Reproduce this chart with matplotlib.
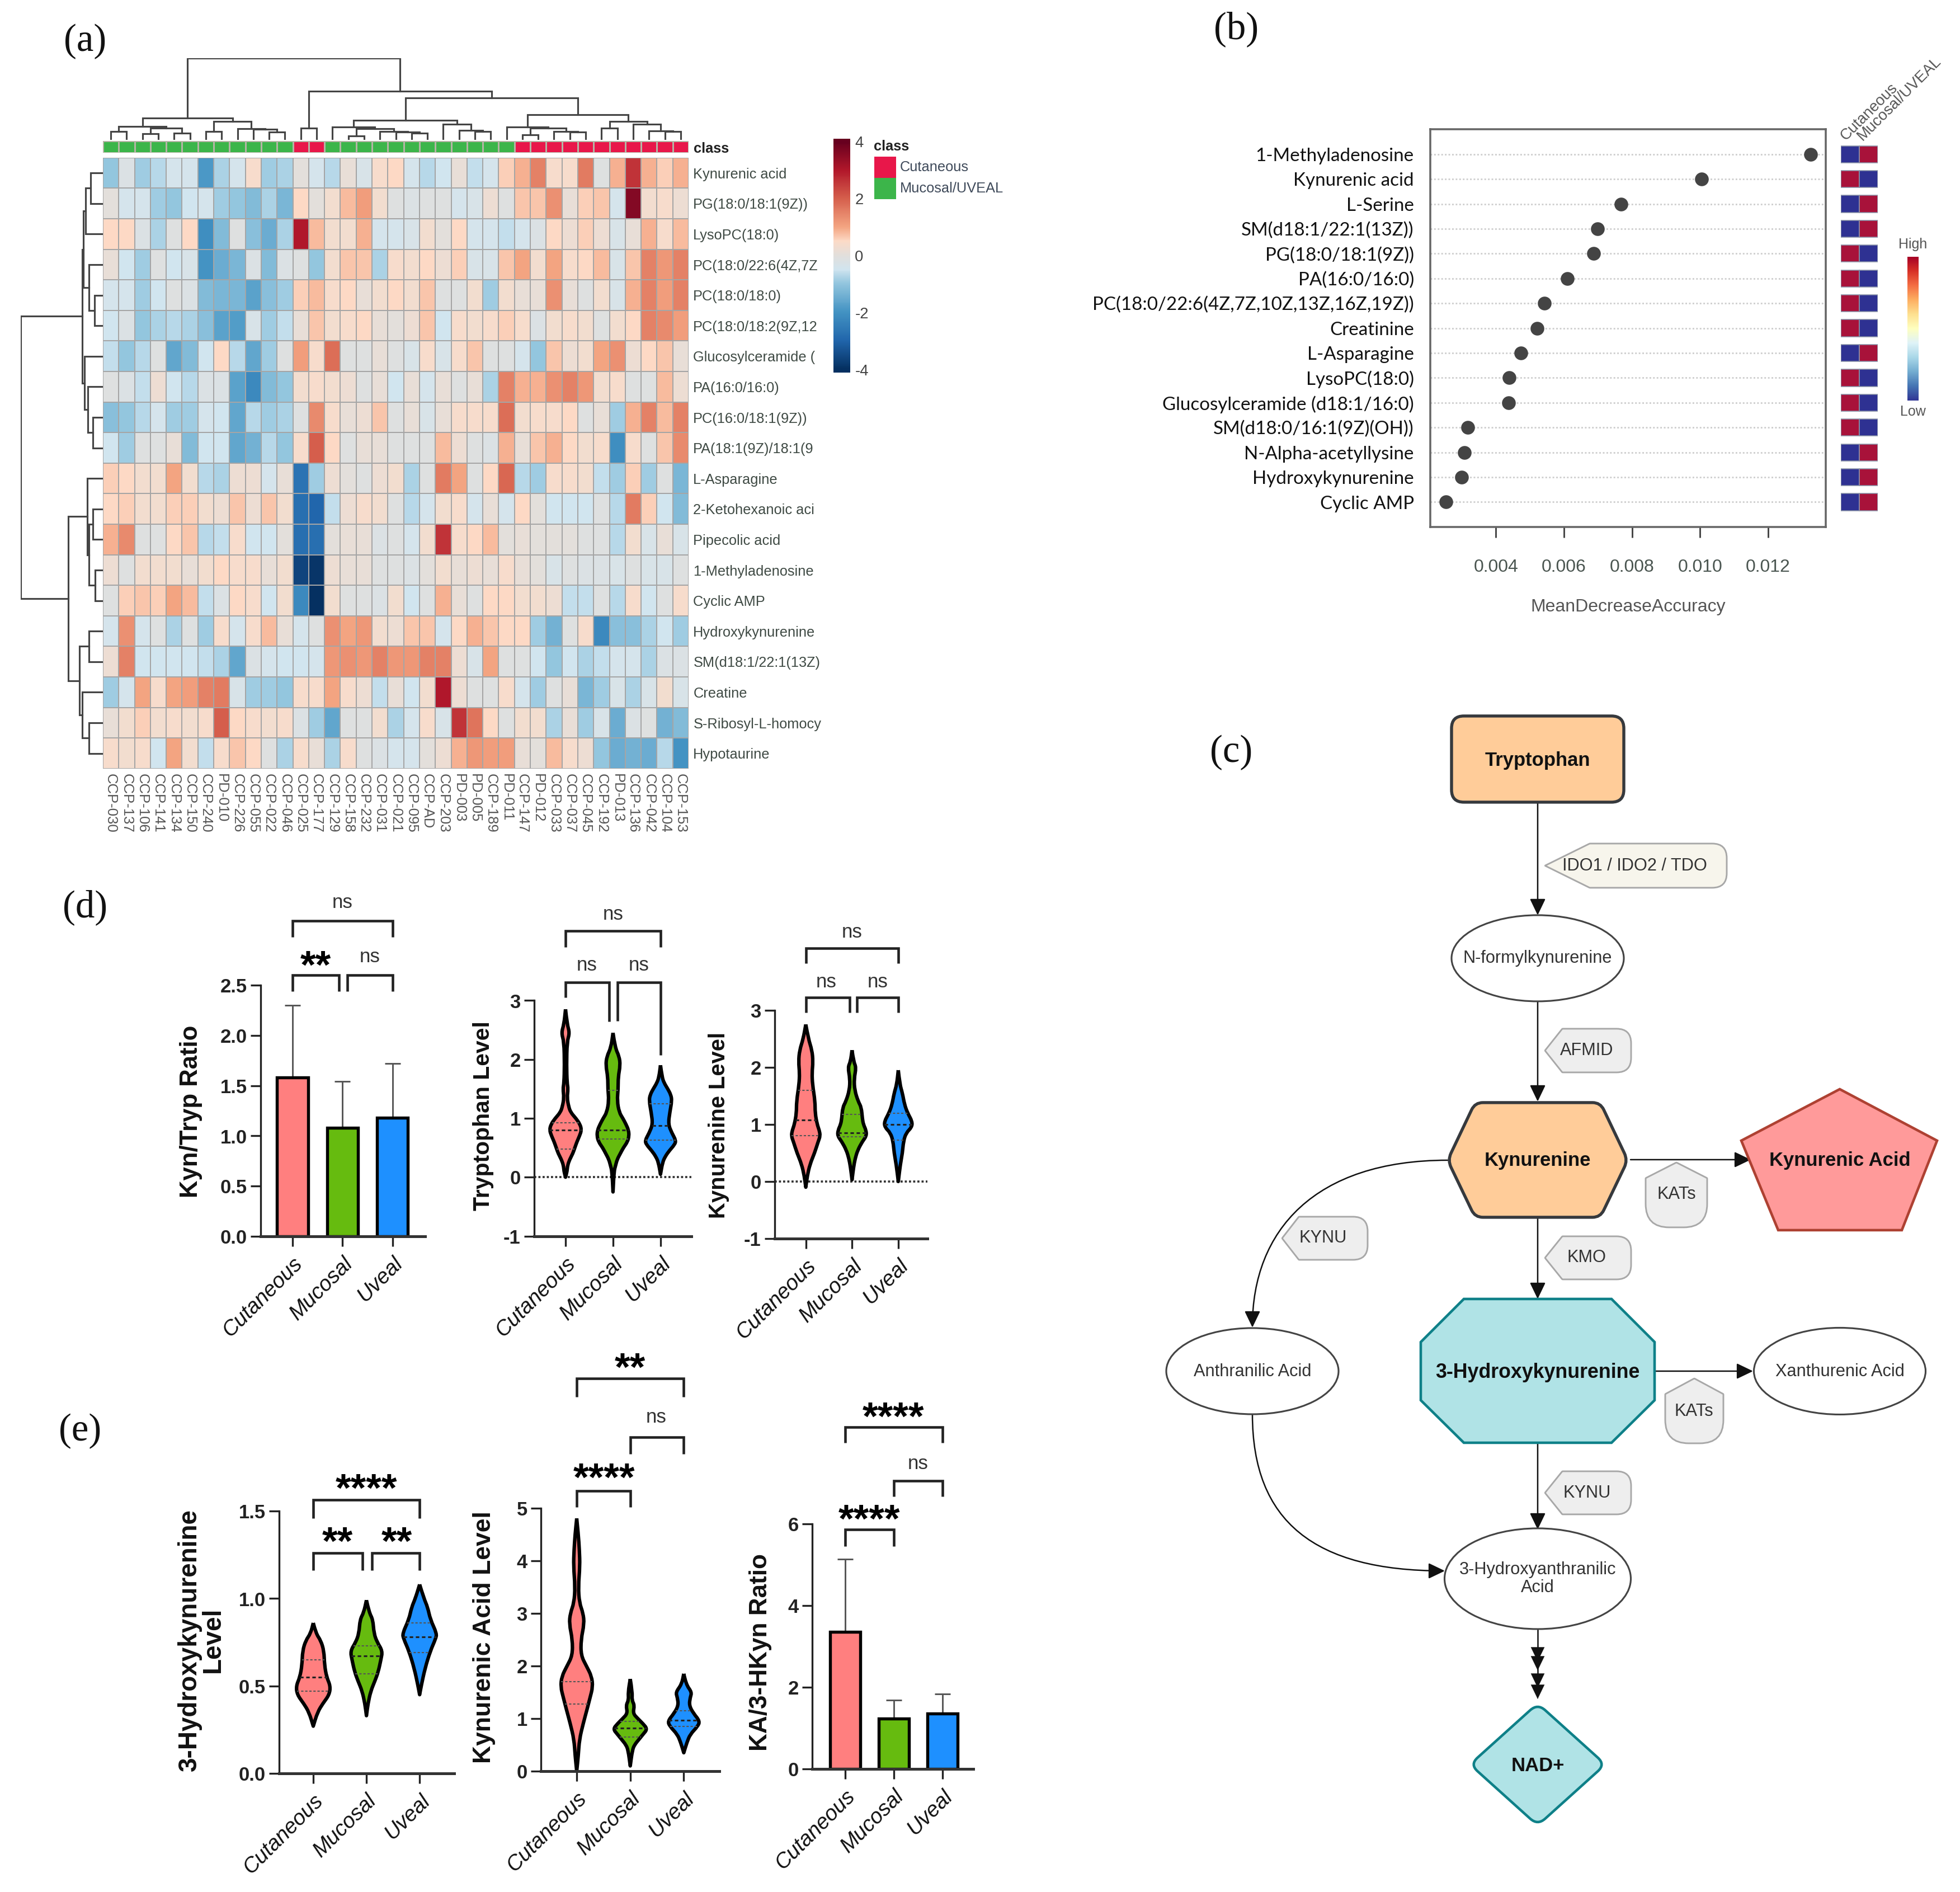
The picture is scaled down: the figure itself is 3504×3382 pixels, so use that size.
import numpy as np
import matplotlib
matplotlib.use("Agg")
import matplotlib.pyplot as plt
from matplotlib.colors import LinearSegmentedColormap, ListedColormap
from matplotlib.patches import Ellipse, FancyArrowPatch, PathPatch
from matplotlib.path import Path

plt.rcParams['font.family'] = ['Liberation Sans', 'DejaVu Sans']

W, H = 3504, 3382

# ---- (a) heatmap
samples = ['CCP-030', 'CCP-137', 'CCP-106', 'CCP-141', 'CCP-134', 'CCP-150', 'CCP-240', 'PD-010', 'CCP-226',
           'CCP-055', 'CCP-022', 'CCP-046', 'CCP-025', 'CCP-177', 'CCP-129', 'CCP-158', 'CCP-232', 'CCP-031',
           'CCP-021', 'CCP-095', 'CCP-AD', 'CCP-203', 'PD-003', 'PD-005', 'CCP-189', 'PD-011', 'CCP-147',
           'PD-012', 'CCP-033', 'CCP-037', 'CCP-045', 'CCP-192', 'PD-013', 'CCP-136', 'CCP-042', 'CCP-104',
           'CCP-153']
metabolites = ['Kynurenic acid', 'PG(18:0/18:1(9Z))', 'LysoPC(18:0)', 'PC(18:0/22:6(4Z,7Z', 'PC(18:0/18:0)',
               'PC(18:0/18:2(9Z,12', 'Glucosylceramide (', 'PA(16:0/16:0)', 'PC(16:0/18:1(9Z))', 'PA(18:1(9Z)/18:1(9',
               'L-Asparagine', '2-Ketohexanoic aci', 'Pipecolic acid', '1-Methyladenosine', 'Cyclic AMP',
               'Hydroxykynurenine', 'SM(d18:1/22:1(13Z)', 'Creatine', 'S-Ribosyl-L-homocy', 'Hypotaurine']
sample_class = [1]*12 + [0]*2 + [1]*12 + [0]*11
heat = [
    [-1, -.2, -.9, -.7, -.4, -.4, -1.9, -.8, -.4, .4, -.9, -.8, 0, -.4, -.7, .1, -.3, .4, .5, -.4, -.7, -.5, .1, -.6, -.4, .6, .9, 1.5, .4, .4, 1.6, -.1, .9, 2.6, .9, .6, .9],
    [0, -.4, -.4, -.9, -1, -.5, -.4, -.9, -1, -1.2, -.8, -1.3, .5, 0, .3, .8, 1.1, .3, -.1, -.2, -.1, -.1, -.4, -.3, .2, -.1, .7, .7, 1.3, .1, .6, .7, -.4, 3.6, .3, .4, .2],
    [.5, .5, -.2, -.8, -.1, .5, -2.1, -1.2, -.1, -1.1, -1.5, -.8, 3, .8, .3, .3, .9, -.4, -.4, -.3, .3, 0, .5, -.4, -.4, -.6, -.4, -.2, .5, .2, .6, .2, -.3, .1, .9, .4, .8],
    [.1, -.5, -.9, -.1, -.5, -.3, -2, -1.5, -1.3, -.2, -1.2, -.2, -.1, -1, .3, .7, .7, -.8, .4, .3, .5, .2, .6, -.3, -.3, .7, 1, .3, 1, .4, .5, .8, -.3, .7, 1.5, 1.2, 1.5],
    [-.4, -.4, -.9, -.5, -.1, -.2, -1.2, -1.3, -1.3, -1.7, -1.1, -.9, .6, .8, .4, .5, .1, .3, .5, .3, .7, -.1, -.1, .3, -.9, .3, .1, .1, 1.3, .1, -.1, .3, -.3, .9, 1.5, 1.1, 1.5],
    [-.5, -.2, -1, -.8, -.7, -.8, -1.1, -1.7, -1.8, -.3, -.9, -.6, .1, .7, .3, .4, .5, .1, 0, .2, .7, -.5, .4, .3, .4, .6, .4, -.2, .3, .4, .3, -.1, .3, .5, 1.5, 1.4, 1.1],
    [-.6, -1, -.7, -.1, -1.6, -1.2, -.5, .5, -.7, -1.6, -.9, -.1, 1.1, .4, 1.8, -.1, -.1, .1, -.1, -.3, .4, -.3, .4, .7, -.1, -.1, -.4, -1, .7, .2, .3, 1, 1.3, .2, .5, .7, .1],
    [-.1, -.2, -.6, .2, -.5, -.7, -.2, -.2, -1.7, -2.2, -1.2, -1, .3, .4, .3, .2, -.1, .1, -.5, .1, -.4, .1, -.1, .1, -.8, 1.5, .9, .9, 1.3, 1.5, 1.2, .3, .4, -.1, -.1, .8, .2],
    [-1.1, -1, -.7, -.4, -.9, -.9, -.4, -.5, -1.6, -.7, -.9, -.8, -.1, 1.4, .4, .1, .2, .7, -.1, .1, -.3, .1, .4, .4, .4, 1.8, .3, .4, .4, .5, -.1, .1, -.9, .9, 1.5, .8, 1.5],
    [-.5, -.9, -.1, -.1, .1, -1.2, -.5, -.5, -1.6, -1.4, -.7, -1, .4, 2, .5, -.1, .1, .1, -.1, -.1, -.1, .8, .2, -.1, -.2, .9, .1, .7, .9, .5, .3, .4, -2.1, .4, -.1, .7, 1.4],
    [.6, .5, .3, .3, 1, .3, -.7, -.8, .2, .2, -.4, .1, -2.7, -.9, .2, 0, -.1, .2, .3, -.8, -.1, 1.6, 1, -.1, .5, 1.9, -.7, -.9, .4, .4, .3, -.6, -.9, .6, -.9, -.1, -1.3],
    [.5, .6, .3, .3, .6, .6, .3, .2, .7, .2, .7, .3, -2.8, -3, -.6, .2, .4, .3, -.1, -.7, -.4, .3, .4, -.4, .1, -.4, .5, 0, -.5, -.5, -.5, -.1, -.7, 1.6, .6, -.5, -1.2],
    [.9, 1.4, -.1, -.1, .5, .7, -.7, -.6, .4, -.5, -.5, 0, -2.8, -2.8, 0, .1, .1, -.2, -.1, -.4, .3, 2.6, .4, .5, .8, 0, .1, 0, 0, 0, -.1, -.1, -.7, .3, -.3, .1, -.3],
    [.2, -.1, .3, .3, .3, .1, .3, .5, .4, .4, .1, .3, -3.6, -3.9, .2, .1, .1, -.1, -.1, -.2, 0, .3, .1, .2, .1, .4, .1, 0, -.3, -.1, -.2, -.2, -.3, -.1, -.3, -.3, -.1],
    [-.1, .6, .7, .6, 1, .8, -.6, -.2, .5, .4, -.5, .3, -2.2, -4, .3, -.1, -.1, -.2, .3, -.5, -.1, .9, .1, -.1, .5, .5, .3, .3, .2, -.6, -.6, -.1, -.7, .4, -.5, -.1, .4],
    [-.4, 1.3, -.4, -.1, -.8, -.1, -.9, .4, -.4, .4, .8, .1, -.4, -.1, 1.3, 1, 1.2, .3, .2, .7, .7, -.4, .5, .9, .7, .5, .5, -.9, -1.4, -.1, .4, -2.2, -1.1, -1.1, -.8, -.5, -.9],
    [.2, 1.5, -.5, -.5, -.5, -.5, -.6, -.8, -1.6, -.2, -.4, -.5, -.5, -.4, 1.2, 1.3, 1.2, 1.5, 1.2, 1.2, 1.5, 1.5, .2, -.3, 1, -.1, -.1, -.5, -1, -.5, -.8, -.6, -.4, -.4, -.8, -.2, -.2],
    [-.9, -.4, 1, .4, 1, 1.1, 1.5, 1.6, -.3, -.9, -.9, -1, .4, .4, 1, .4, .2, -.6, .1, -.5, .3, 3, .2, -.1, -.1, .4, -.4, -.9, -.1, .1, -1.3, -.9, -.3, -.8, -.3, .3, -.3],
    [.1, .3, .6, .3, .4, .3, .4, 2, .5, .4, .3, .4, -.2, -.9, -1.6, -.1, -.1, .3, -.8, -.4, .4, -.3, 2.6, 1.7, .5, -.1, .3, .3, -.8, .1, -.9, -.3, -1.5, -.2, -.1, -1.4, -1.2],
    [.4, .3, .4, -.5, 1, .3, -.6, .4, .7, .5, -.1, -.8, .4, .1, -.8, .4, -.1, -.2, -.4, -.4, 0, .2, .9, 1.2, 1.1, 1.1, .1, 0, .8, .4, .2, -1, -1.5, -1.4, -1.5, -.7, -2],
]
heat_ticks = [4, 2, 0, -2, -4]

# dendrograms as nested (height, left, right), leaves are column / row numbers
col_left = (80, (50, (30, 0, 1), (42, (22, 2, 3), (25, 4, 5))),
            (68, (30, 6, 7), (40, 8, (38, 9, (28, 10, 11)))))
col_c1 = (47, 14, (40, (14, 15, 16), (30, 17, (28, 18, (24, 19, 20)))))
col_c2 = (58, 21, (34, 22, (30, 23, 24)))
col_d1 = (47, 25, (42, (18, 26, 27), (30, 28, (28, 29, 30))))
col_d2 = (68, (42, 31, 32), (58, 33, (32, 34, (30, 35, 36))))
col_rest = (154, (72, col_c1, col_c2), (92, col_d1, col_d2))
col_tree = (300, col_left, (180, (42, 12, 13), col_rest))
row_up = (44, (42, (37, (27, 0, 1), 2), (30, 3, (18, 4, 5))),
          (40, 6, (33, 7, (22, 8, 9))))
row_low = (75, (34, 10, (30, (22, 11, 12), (17, 13, 14))),
           (50, (30, 15, 16), (44, 17, (30, 18, 19))))
row_tree = (177, row_up, row_low)

# ---- (b) importance
features = ['1-Methyladenosine', 'Kynurenic acid', 'L-Serine', 'SM(d18:1/22:1(13Z))', 'PG(18:0/18:1(9Z))',
            'PA(16:0/16:0)', 'PC(18:0/22:6(4Z,7Z,10Z,13Z,16Z,19Z))', 'Creatinine', 'L-Asparagine', 'LysoPC(18:0)',
            'Glucosylceramide (d18:1/16:0)', 'SM(d18:0/16:1(9Z)(OH))', 'N-Alpha-acetyllysine', 'Hydroxykynurenine',
            'Cyclic AMP']
mda = [.01325, .01004, .00768, .00698, .00687, .00609, .00543, .00521, .00473, .00439, .00437, .00317, .00307,
       .00299, .00253]
cut_high = [0, 1, 0, 0, 1, 1, 1, 1, 0, 1, 1, 1, 0, 0, 0]
mda_ticks = [.004, .006, .008, .010, .012]

# ---- (d), (e) groups
groups = ['Cutaneous', 'Mucosal', 'Uveal']
group_colors = ['#ff7f7f', '#66bb0f', '#1e90ff']

kyn_tryp_mean = [1.58, 1.08, 1.18]
kyn_tryp_top = [2.30, 1.54, 1.72]
ka_hkyn_mean = [3.35, 1.23, 1.35]
ka_hkyn_top = [5.13, 1.68, 1.83]

# violin outlines: y level and half width
trp_y = [[2.85, 2.6, 2.45, 2.3, 1.9, 1.6, 1.5, 1.35, 1.2, 1.1, 1, .9, .8, .7, .6, .5, .4, .3, .2, .1, 0],
         [2.45, 2.2, 2.05, 1.9, 1.7, 1.5, 1.3, 1.1, 1, .9, .8, .7, .6, .5, .4, .3, .2, .1, -.25],
         [1.9, 1.7, 1.6, 1.5, 1.4, 1.3, 1.1, .9, .75, .62, .55, .45, .35, .25, .05]]
trp_w = [[0, 3, 8, 3, 2, 3, 5, 3, 6, 10, 20, 28, 31, 27, 22, 18, 14, 8, 4, 3, 0],
         [0, 4, 12, 14, 10, 10, 8, 12, 19, 25, 30, 31, 28, 20, 14, 8, 5, 2, 0],
         [0, 3, 7, 14, 20, 22, 18, 15, 22, 30, 27, 17, 9, 4, 0]]
trp_q = [[.48, .8, .92], [.65, .8, 1.47], [.63, .88, 1.25]]

kyn_y = [[2.75, 2.5, 2.3, 2.1, 1.9, 1.7, 1.4, 1.2, 1, .9, .8, .7, .5, .3, .1, -.1],
         [2.3, 2.1, 2, 1.8, 1.6, 1.4, 1.3, 1.1, 1, .9, .8, .7, .55, .4, .25, .03],
         [1.95, 1.7, 1.55, 1.35, 1.2, 1.05, .95, .85, .7, .5, .3, 0]]
kyn_w = [[0, 5, 12, 14, 12, 13, 18, 18, 22, 26, 28, 24, 17, 8, 3, 0],
         [0, 3, 8, 4, 5, 12, 18, 20, 22, 27, 28, 20, 11, 6, 3, 0],
         [0, 3, 8, 12, 18, 27, 26, 15, 10, 8, 4, 0]]
kyn_q = [[.8, 1.08, 1.6], [.78, .85, 1.18], [.72, 1, 1.2]]

hk_y = [[.86, .8, .76, .7, .62, .55, .5, .45, .4, .35, .27],
        [.99, .92, .88, .8, .75, .7, .65, .58, .53, .47, .4, .33],
        [1.08, 1, .95, .88, .8, .77, .7, .6, .5, .45]]
hk_w = [[0, 5, 14, 20, 21, 25, 32, 30, 18, 8, 0],
        [0, 5, 12, 14, 20, 30, 27, 22, 16, 8, 3, 0],
        [0, 8, 15, 20, 32, 30, 20, 10, 3, 0]]
hk_q = [[.47, .55, .65], [.57, .67, .73], [.69, .78, .86]]

ka_y = [[4.8, 4.5, 4.2, 3.9, 3.5, 3.2, 3, 2.8, 2.5, 2.2, 2, 1.8, 1.6, 1.4, 1.2, .9, .6, .3, 0],
        [1.75, 1.5, 1.35, 1.25, 1.1, 1, .9, .8, .7, .6, .5, .4, .1],
        [1.85, 1.65, 1.5, 1.4, 1.25, 1.1, .95, .85, .7, .55, .35]]
ka_w = [[0, 3, 5, 6, 3, 5, 12, 14, 8, 8, 18, 28, 30, 25, 20, 12, 5, 3, 0],
        [0, 4, 3, 8, 5, 14, 24, 32, 24, 16, 8, 4, 0],
        [0, 4, 15, 12, 10, 18, 30, 26, 12, 6, 0]]
ka_q = [[1.27, 1.7], [.65, .82, .95], [.85, .97, 1.15]]

# brackets (x from, x to, y top, left foot, right foot) and their labels (text, x, y)
d1_br = [(0, 2, 3.14, 2.98, 2.98), (0, .93, 2.6, 2.44, 2.44), (1.1, 2, 2.6, 2.44, 2.44)]
d1_lb = [('ns', 1, 3.32), ('**', .46, 2.76), ('ns', 1.55, 2.78)]
d2_br = [(0, 2, 4.18, 3.91, 3.91), (0, .92, 3.31, 3.05, 2.64), (1.1, 2, 3.31, 2.65, 2.07)]
d2_lb = [('ns', 1, 4.46), ('ns', .45, 3.6), ('ns', 1.54, 3.6)]
d3_br = [(0, 2, 4.09, 3.82, 3.82), (0, .95, 3.22, 2.96, 2.96), (1.1, 2, 3.22, 2.96, 2.96)]
d3_lb = [('ns', 1, 4.37), ('ns', .44, 3.5), ('ns', 1.55, 3.5)]
e1_br = [(0, 2, 1.564, 1.458, 1.458), (0, .92, 1.26, 1.16, 1.16), (1.1, 2, 1.26, 1.16, 1.16)]
e1_lb = [('****', 1, 1.663), ('**', .46, 1.359), ('**', 1.57, 1.359)]
e2_br = [(0, 2, 7.46, 7.11, 7.11), (1, 2, 6.34, 6.03, 6.03), (0, 1, 5.33, 5.02, 5.02)]
e2_lb = [('**', 1, 7.78), ('ns', 1.49, 6.72), ('****', .51, 5.69)]
e3_br = [(0, 2, 8.37, 7.98, 7.98), (1, 2, 7.05, 6.67, 6.67), (0, 1, 5.86, 5.45, 5.45)]
e3_lb = [('****', .99, 8.77), ('ns', 1.5, 7.48), ('****', .5, 6.26)]


def axpx(x0, y0, x1, y1):
    # axes from reference pixel box
    return fig.add_axes([x0/W, 1-y1/H, (x1-x0)/W, (y1-y0)/H])


def draw_tree(ax, node, vertical=True):
    if isinstance(node, int):
        return node+.5, 0
    h, a, b = node
    xa, ha = draw_tree(ax, a, vertical)
    xb, hb = draw_tree(ax, b, vertical)
    px = [xa, xa, xb, xb]
    py = [ha, h, h, hb]
    if vertical:
        ax.plot(px, py, color='#444444', lw=.75, solid_joinstyle='miter')
    else:
        ax.plot(py, px, color='#444444', lw=.75, solid_joinstyle='miter')
    return (xa+xb)/2, h


def round_poly(pts, radii):
    # closed path, corners cut with a quadratic curve
    verts, codes = [], []
    n = len(pts)
    for i in range(n):
        p = np.array(pts[i], float)
        a = np.array(pts[i-1], float)
        b = np.array(pts[(i+1) % n], float)
        r = radii[i]
        p0 = p + (a-p)/np.linalg.norm(a-p)*r
        p1 = p + (b-p)/np.linalg.norm(b-p)*r
        verts.append(p0)
        codes.append(Path.MOVETO if i == 0 else Path.LINETO)
        verts += [p, p1]
        codes += [Path.CURVE3, Path.CURVE3]
    verts.append(verts[0])
    codes.append(Path.CLOSEPOLY)
    return Path(verts, codes)


def style_axes(ax, ylim, yticks, ylabels, xlim):
    ax.set_xlim(*xlim)
    ax.set_ylim(*ylim)
    ax.patch.set_visible(False)
    for s in ['top', 'right']:
        ax.spines[s].set_visible(False)
    ax.spines['left'].set_linewidth(.8)
    ax.spines['bottom'].set_linewidth(1.2)
    ax.spines['left'].set_color('#222222')
    ax.spines['bottom'].set_color('#333333')
    ax.set_yticks(yticks, ylabels, fontsize=8.3, fontweight='bold', color='#222222')
    ax.set_xticks(range(3), groups, fontsize=9.2, style='italic', rotation=45, ha='right',
                  rotation_mode='anchor', color='#111111')
    ax.tick_params(axis='both', length=4.3, width=.8, color='#222222')
    ax.tick_params(axis='x', pad=3)
    ax.tick_params(axis='y', pad=1.5)


def draw_bars(ax, means, tops):
    ax.errorbar(range(3), means, yerr=[[0]*3, np.array(tops)-np.array(means)], fmt='none',
                ecolor='#555555', elinewidth=.7, capsize=3.4, capthick=.7, zorder=1)
    ax.bar(range(3), means, width=.62, color=group_colors, edgecolor='black', linewidth=1.3, zorder=2)


def draw_violins(ax, ys, widths, quarts, scale):
    ax.axhline(0, color='#333333', lw=.9, ls=(0, (1, 1)), zorder=1)
    for i in range(3):
        y = np.array(ys[i])
        w = np.array(widths[i])/scale
        # tip knots doubled so the outline reaches them
        outline = np.r_[np.c_[i+w, y], np.c_[i-w[::-1], y[::-1]]]
        verts = [outline[0]]
        codes = [Path.MOVETO]
        for k in range(1, len(outline)-1):
            verts += [outline[k], (outline[k]+outline[k+1])/2]
            codes += [Path.CURVE3, Path.CURVE3]
        verts.append(outline[-1])
        codes.append(Path.LINETO)
        ax.add_patch(PathPatch(Path(verts, codes), fc=group_colors[i], ec='black', lw=1.5, zorder=2,
                               clip_on=False, joinstyle='round'))
        for j, q in enumerate(quarts[i]):
            hw = np.interp(q, y[::-1], w[::-1])
            mid = j == len(quarts[i])//2 and len(quarts[i]) == 3
            ax.plot([i-hw, i+hw], [q, q], color='#222222' if mid else '#555555', lw=.75 if mid else .5,
                    ls=(0, (2, 1.5)), zorder=3)


def draw_brackets(ax, brackets, labels):
    for x0, x1, top, left, right in brackets:
        ax.plot([x0, x0, x1, x1], [left, top, top, right], color='#222222', lw=1.1, clip_on=False,
                solid_joinstyle='miter', solid_capstyle='butt')
    for txt, x, y in labels:
        if txt == 'ns':
            ax.text(x, y, txt, fontsize=8.4, ha='center', va='center', color='#333333', clip_on=False)
        else:
            ax.annotate(txt, (x, y), xytext=(0, -3.8), textcoords='offset points', fontsize=17,
                        fontweight='bold', ha='center', va='center', color='black', annotation_clip=False)


fig = plt.figure(figsize=(W/300, (H+.2)/300), dpi=300)
ov = fig.add_axes([0, 0, 1, 1], zorder=5)
ov.set_xlim(0, W)
ov.set_ylim(H, 0)
ov.axis('off')
ov.patch.set_visible(False)

for lab, x, y in [('(a)', 152, 74), ('(b)', 2210, 52), ('(c)', 2201, 1345), ('(d)', 152, 1622), ('(e)', 143, 2558)]:
    ov.text(x, y, lab, fontsize=16.5, family='Liberation Serif', ha='center', va='center', color='#111111')

# ---- (a)
cmap = LinearSegmentedColormap.from_list('hm', [
    (0, '#053061'), (.125, '#2166ac'), (.25, '#4393c3'), (.375, '#92c5de'), (.4375, '#d1e5f0'),
    (.5, '#e2dfdc'), (.5625, '#fddbc7'), (.625, '#f4a582'), (.75, '#d6604d'), (.875, '#b2182b'), (1, '#67001f')])

ax = axpx(184, 282, 1231, 1374)
ax.pcolormesh(np.array(heat), cmap=cmap, vmin=-4, vmax=4, edgecolors='#a5a5a5', linewidth=.42)
ax.set_ylim(20, 0)
ax.set_xticks(np.arange(37)+.5, samples, rotation=270, fontsize=6.2, color='#555555')
ax.set_yticks(np.arange(20)+.5, metabolites, fontsize=6.1, color='#3f4a44')
ax.yaxis.tick_right()
ax.tick_params(length=0)
ax.tick_params(axis='x', pad=2.2)
ax.tick_params(axis='y', pad=2)
for s in ax.spines.values():
    s.set_visible(False)

ax = axpx(184, 252, 1231, 273)
ax.pcolormesh(np.array([sample_class]), cmap=ListedColormap(['#e8174a', '#3cb54a']), vmin=0, vmax=1,
              edgecolors='#b5b5a5', linewidth=.3)
ax.axis('off')
ov.text(1240, 266, 'class', fontsize=6.1, fontweight='bold', va='center', color='#222222')

ax = axpx(184, 104.6, 1231, 250)
draw_tree(ax, col_tree)
ax.set_xlim(0, 37)
ax.set_ylim(0, 300)
ax.axis('off')

ax = axpx(37, 282, 184, 1374)
draw_tree(ax, row_tree, vertical=False)
ax.set_xlim(177, 0)
ax.set_ylim(20, 0)
ax.axis('off')

ax = axpx(1490, 248, 1520, 666)
ax.imshow(np.linspace(4.1, -4.1, 256)[:, None], cmap=cmap, vmin=-4, vmax=4, aspect='auto',
          extent=[0, 1, -4.1, 4.1])
ax.set_xticks([])
ax.yaxis.tick_right()
ax.set_yticks(heat_ticks, [str(t) for t in heat_ticks], fontsize=6.6, color='#444444')
ax.tick_params(length=0, pad=2)
for s in ax.spines.values():
    s.set_visible(False)

ov.text(1562, 262, 'class', fontsize=6.1, fontweight='bold', va='center', color='#222222')
for lab, c, y0 in [('Cutaneous', '#e8174a', 280), ('Mucosal/UVEAL', '#3cb54a', 318)]:
    ov.add_patch(plt.Rectangle((1563, y0), 39, 38, fc=c, ec='none'))
    ov.text(1609, y0+19, lab, fontsize=6.1, va='center', color='#3f4a5a')

# ---- (b)
ax = axpx(2557, 231.5, 3264, 942)
rows = np.arange(15, 0, -1)
ax.hlines(rows, .00207, .01369, color='#cfcfcf', lw=.7, ls=(0, (1, 1.2)), zorder=1)
ax.scatter(mda, rows, s=24, color='#444444', zorder=3)
ax.set_xlim(.00207, .01369)
ax.set_ylim(0, 16)
ax.set_xticks(mda_ticks, ['%.3f' % t for t in mda_ticks], fontsize=7.7, color='#4a5550')
ax.set_yticks(rows, features, fontsize=7.95, family='Lato', color='#111111')
ax.tick_params(axis='y', length=0, pad=7)
ax.tick_params(axis='x', length=4.6, width=.7, pad=9, color='#444444')
ax.set_xlabel('MeanDecreaseAccuracy', fontsize=7.7, color='#555555', labelpad=10)
for s in ax.spines.values():
    s.set_linewidth(.85)
    s.set_color('#666666')

ax = axpx(3291, 231.5, 3357, 942)
for i, (r, hi) in enumerate(zip(rows, cut_high)):
    cols = ['#a8123a', '#2e3192'] if hi else ['#2e3192', '#a8123a']
    ax.barh(r, 1, left=[0], height=.68, color=cols[0], edgecolor='#8a93a8', linewidth=.4)
    ax.barh(r, 1, left=[1], height=.68, color=cols[1], edgecolor='#8a93a8', linewidth=.4)
ax.set_xlim(0, 2)
ax.set_ylim(0, 16)
ax.axis('off')
ov.text(3300, 252, 'Cutaneous', fontsize=6.6, rotation=45, rotation_mode='anchor', color='#555555')
ov.text(3330, 252, 'Mucosal/UVEAL', fontsize=6.6, rotation=45, rotation_mode='anchor', color='#555555')

ax = axpx(3410, 459, 3430, 716)
ax.imshow(np.linspace(1, 0, 256)[:, None], cmap='RdYlBu_r', aspect='auto')
ax.axis('off')
ov.text(3420, 437, 'High', fontsize=6, ha='center', va='center', color='#555555')
ov.text(3420, 736, 'Low', fontsize=6, ha='center', va='center', color='#555555')

# ---- (c) pathway
arrow = dict(arrowstyle='-|>,head_length=1.0,head_width=.48', mutation_scale=6, shrinkA=0, shrinkB=0,
             color='#111111', lw=.6, zorder=2)


def straight(x0, y0, x1, y1, **kw):
    ov.add_patch(FancyArrowPatch((x0, y0), (x1, y1), **{**arrow, **kw}))


straight(2749, 1435, 2749, 1636)
straight(2749, 1790, 2749, 1969)
straight(2749, 2176, 2749, 2322)
straight(2749, 2579, 2749, 2734)
straight(2915, 2073, 3130, 2073)
straight(2959, 2451, 3134, 2451)
ov.plot([2749, 2749], [2912, 3010], color='#111111', lw=.6, zorder=2)
for tip in [2970, 2986, 3017, 3037]:
    straight(2749, tip-25, 2749, tip, lw=.1)
ov.add_patch(FancyArrowPatch(path=Path([(2588, 2074), (2350, 2074), (2239, 2200), (2239, 2373)],
                                       [Path.MOVETO, Path.CURVE4, Path.CURVE4, Path.CURVE4]), **arrow))
ov.add_patch(FancyArrowPatch(path=Path([(2239, 2528), (2239, 2720), (2350, 2808), (2583, 2808)],
                                       [Path.MOVETO, Path.CURVE4, Path.CURVE4, Path.CURVE4]), **arrow))

ov.add_patch(PathPatch(round_poly([(2595, 1280), (2903, 1280), (2903, 1434), (2595, 1434)], [22]*4),
                       fc='#ffcc99', ec='#36393d', lw=1.3, zorder=3))
ov.add_patch(PathPatch(round_poly([(2637, 1971), (2861, 1971), (2910, 2074), (2861, 2176), (2637, 2176), (2588, 2074)],
                                  [14]*6), fc='#ffcc99', ec='#36393d', lw=1.3, zorder=3))
ov.add_patch(plt.Polygon([(3289, 1947), (3463, 2039), (3400, 2199), (3179, 2199), (3113, 2039)], fc='#ff9a9a',
                         ec='#ae4132', lw=1.1, zorder=3))
ov.add_patch(plt.Polygon([(2617, 2322), (2881, 2322), (2958, 2399), (2958, 2503), (2881, 2579), (2617, 2579),
                          (2540, 2503), (2540, 2399)], fc='#b0e3e6', ec='#0e8088', lw=1.1, zorder=3))
ov.add_patch(PathPatch(round_poly([(2749, 3045), (2870, 3154), (2749, 3263), (2628, 3154)], [18]*4), fc='#b0e3e6',
                       ec='#0e8088', lw=1.1, zorder=3))
for cx, cy, ew, eh in [(2749, 1713, 308, 154), (2239, 2451, 308, 154), (3289, 2451, 307, 155), (2749, 2822, 333, 180)]:
    ov.add_patch(Ellipse((cx, cy), ew, eh, fc='white', ec='#444444', lw=.75, zorder=3))

for x0, x1, y0, y1, inset, fc in [(2762, 3087, 1508, 1587, 80, '#f7f5ec'), (2762, 2916, 1839, 1917, 31, '#eeeeee'),
                                  (2292, 2445, 2175, 2252, 30, '#eeeeee'), (2762, 2916, 2210, 2287, 31, '#eeeeee'),
                                  (2762, 2916, 2630, 2707, 31, '#eeeeee')]:
    cy = (y0+y1)/2
    ov.add_patch(PathPatch(round_poly([(x0, cy), (x0+inset, y0), (x1, y0), (x1, y1), (x0+inset, y1)],
                                      [1, 1, 26, 26, 1]), fc=fc, ec='#a8a8a8', lw=.7, zorder=3))
for x0, x1, y0, y1 in [(2942, 3052, 2078, 2194), (2977, 3081, 2464, 2580)]:
    ov.add_patch(PathPatch(round_poly([((x0+x1)/2, y0), (x1, y0+28), (x1, y1), (x0, y1), (x0, y0+28)],
                                      [1, 1, 42, 42, 1]), fc='#eeeeee', ec='#a8a8a8', lw=.7, zorder=3))

for txt, x, y, fs, bold in [('Tryptophan', 2749, 1359, 8.3, True), ('Kynurenine', 2749, 2074, 8.3, True),
                            ('Kynurenic Acid', 3289, 2074, 8.3, True), ('3-Hydroxykynurenine', 2749, 2453, 8.6, True),
                            ('NAD+', 2749, 3156, 8.3, True), ('N-formylkynurenine', 2749, 1713, 7.4, False),
                            ('Anthranilic Acid', 2239, 2452, 7.4, False), ('Xanthurenic Acid', 3289, 2452, 7.4, False),
                            ('3-Hydroxyanthranilic\nAcid', 2749, 2822, 7.4, False),
                            ('IDO1 / IDO2 / TDO', 2922, 1548, 7.4, False), ('AFMID', 2837, 1878, 7.4, False),
                            ('KYNU', 2365, 2213, 7.4, False), ('KMO', 2837, 2248, 7.4, False),
                            ('KATs', 2997, 2135, 7.4, False), ('KATs', 3028, 2523, 7.4, False),
                            ('KYNU', 2837, 2669, 7.4, False)]:
    ov.text(x, y, txt, fontsize=fs, ha='center', va='center', zorder=4, linespacing=1.1,
            fontweight='bold' if bold else 'normal', color='#111111' if bold else '#333333')

# ---- (d)
ax = axpx(466, 1761, 760, 2210)
style_axes(ax, (0, 2.5), [0, .5, 1, 1.5, 2, 2.5], ['0.0', '0.5', '1.0', '1.5', '2.0', '2.5'], (-.639, 2.655))
draw_bars(ax, kyn_tryp_mean, kyn_tryp_top)
draw_brackets(ax, d1_br, d1_lb)

ax = axpx(955, 1788.5, 1236, 2209.6)
style_axes(ax, (-1, 3), [-1, 0, 1, 2, 3], ['-1', '0', '1', '2', '3'], (-.66, 2.65))
draw_violins(ax, trp_y, trp_w, trp_q, 91.8)
draw_brackets(ax, d2_br, d2_lb)

ax = axpx(1385, 1806, 1658, 2214)
style_axes(ax, (-1, 3), [-1, 0, 1, 2, 3], ['-1', '0', '1', '2', '3'], (-.672, 2.63))
draw_violins(ax, kyn_y, kyn_w, kyn_q, 89.4)
draw_brackets(ax, d3_br, d3_lb)

# ---- (e)
ax = axpx(499, 2701, 812, 3170)
style_axes(ax, (0, 1.5), [0, .5, 1, 1.5], ['0.0', '0.5', '1.0', '1.5'], (-.642, 2.65))
draw_violins(ax, hk_y, hk_w, hk_q, 99.3)
ax.lines[0].set_visible(False)
draw_brackets(ax, e1_br, e1_lb)

ax = axpx(967, 2695.6, 1285.6, 3166)
style_axes(ax, (0, 5), range(6), ['0', '1', '2', '3', '4', '5'], (-.669, 2.66))
draw_violins(ax, ka_y, ka_w, ka_q, 100)
ax.lines[0].set_visible(False)
draw_brackets(ax, e2_br, e2_lb)

ax = axpx(1452, 2724, 1740, 3162)
style_axes(ax, (0, 6), [0, 2, 4, 6], ['0', '2', '4', '6'], (-.672, 2.635))
draw_bars(ax, ka_hkyn_mean, ka_hkyn_top)
draw_brackets(ax, e3_br, e3_lb)

for txt, x, y, fs in [('Kyn/Tryp Ratio', 342, 1987, 10.5), ('Tryptophan Level', 864, 1994, 9.8),
                      ('Kynurenine Level', 1285, 2011, 9.6), ('3-Hydroxykynurenine\nLevel', 360, 2931, 11),
                      ('Kynurenic Acid Level', 865, 2926, 10.7), ('KA/3-HKyn Ratio', 1360, 2953, 10.6)]:
    ov.text(x, y, txt, fontsize=fs, fontweight='bold', rotation=90, ha='center', va='center', color='#111111',
            linespacing=.95)

fig.savefig('out.png', dpi=300, facecolor='white')
